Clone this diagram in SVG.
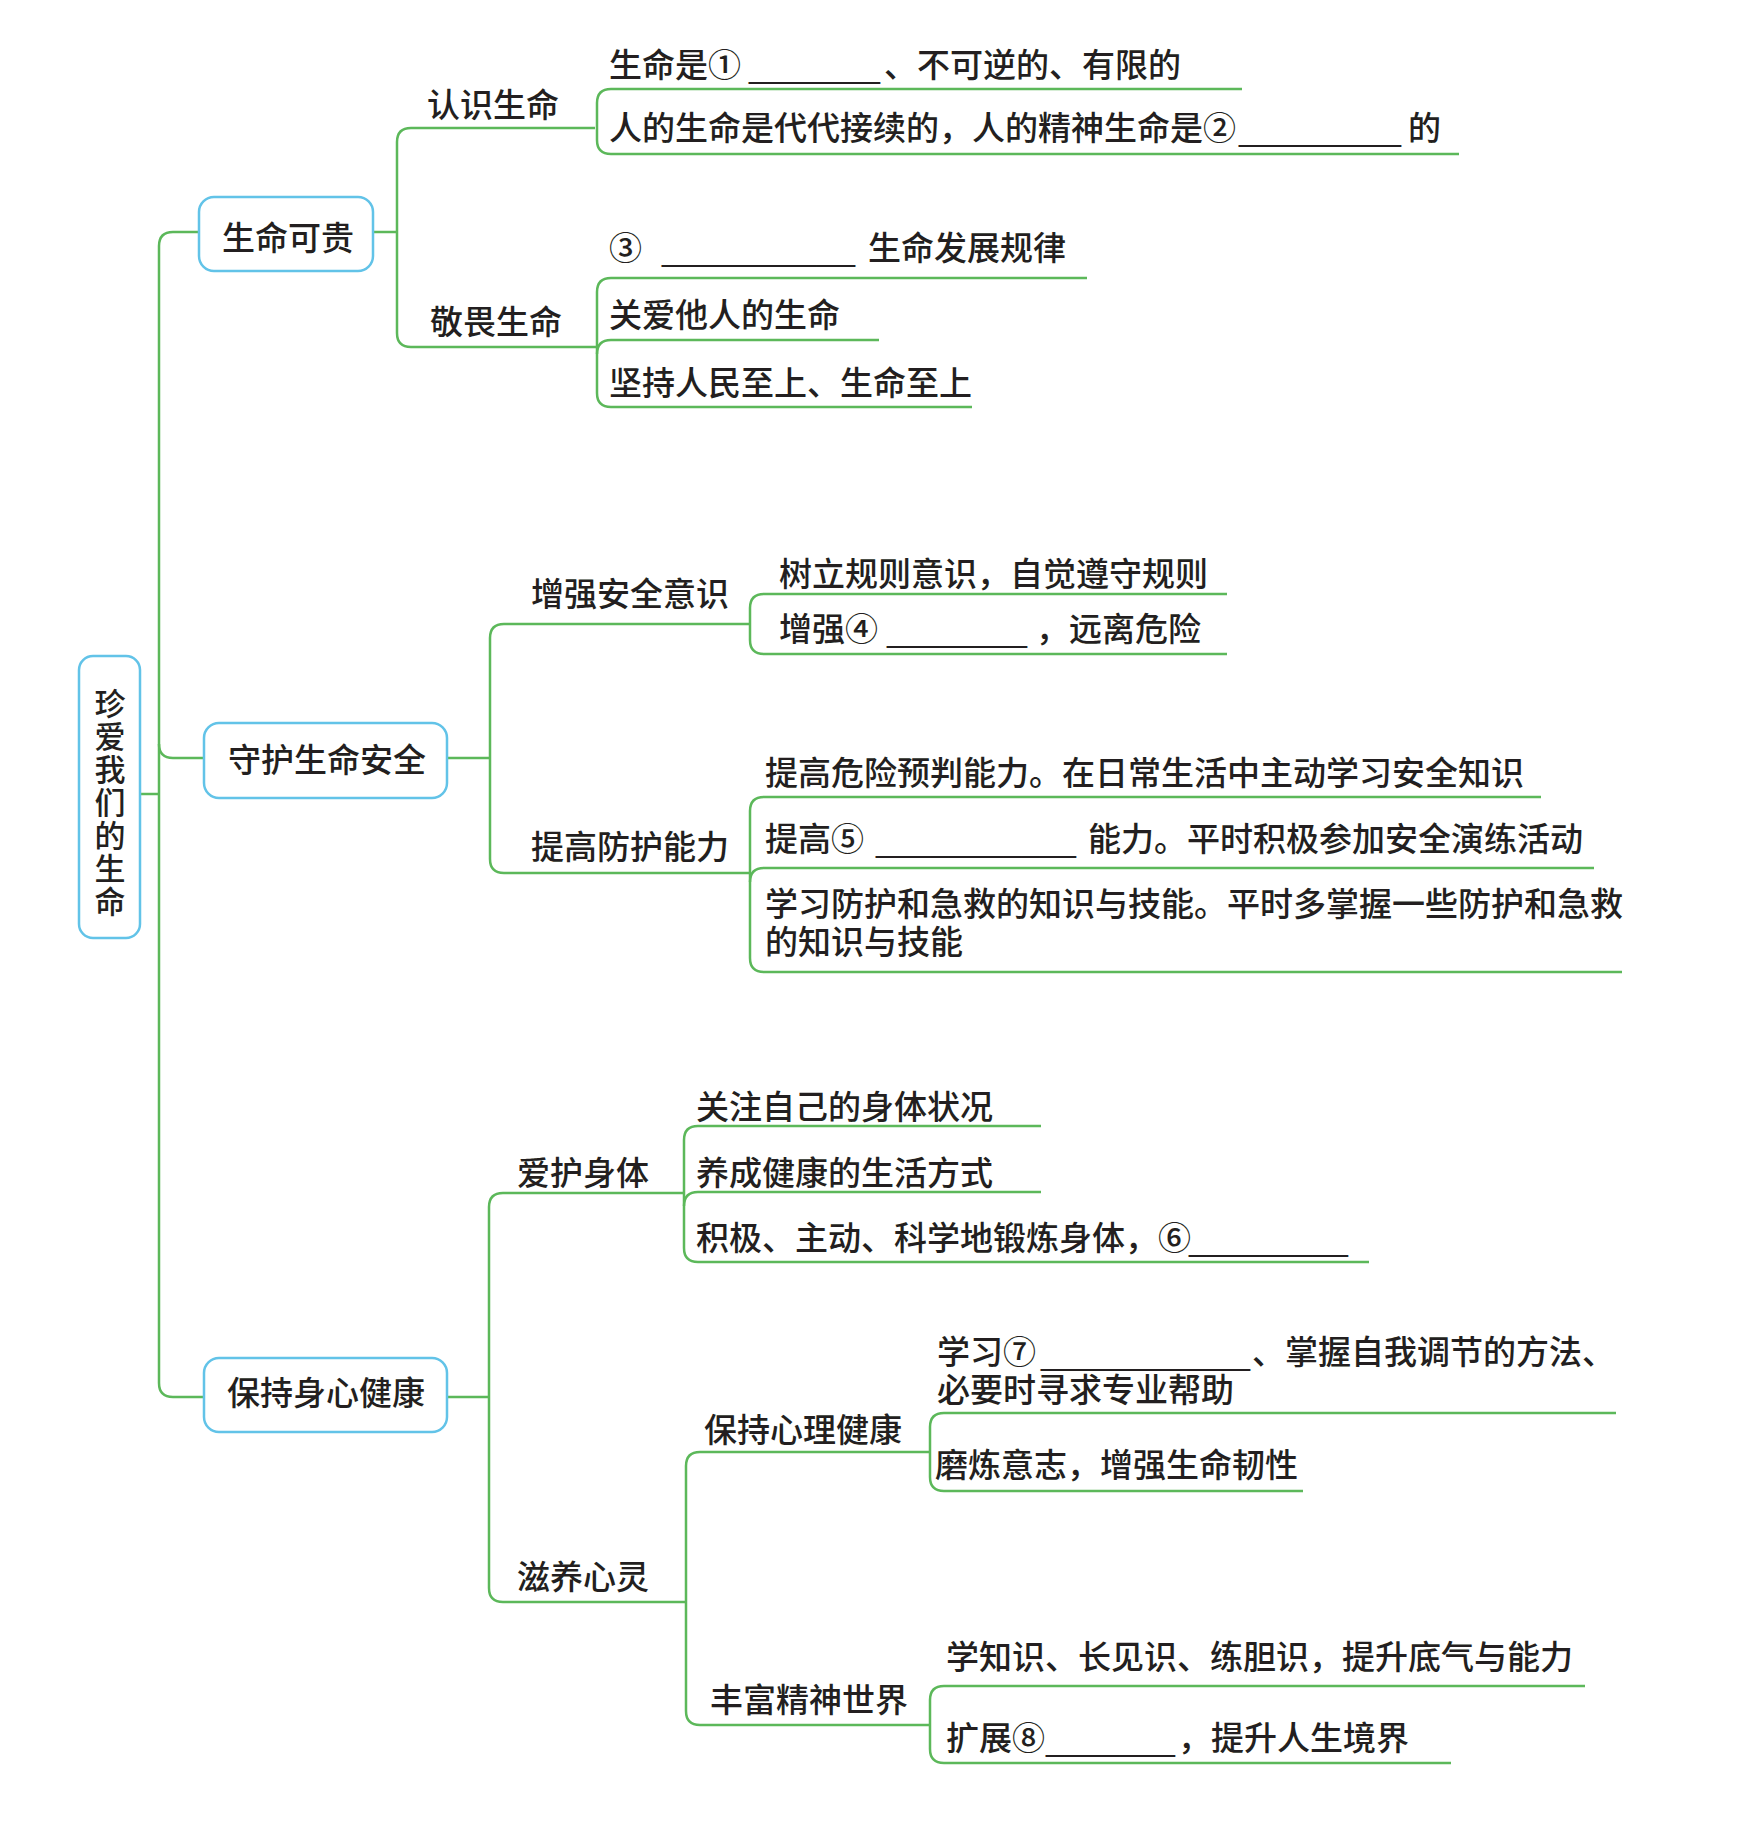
<svg xmlns="http://www.w3.org/2000/svg" width="1752" height="1845" viewBox="0 0 1752 1845">
<style>
text{font-family:"Noto Sans CJK SC","Noto Sans",sans-serif;font-size:33px;font-weight:500;fill:#231f20}
.c{text-anchor:middle}
.root{font-size:31px;writing-mode:vertical-rl;letter-spacing:2px}
.u{font-family:"Liberation Sans",sans-serif;font-weight:400}
.box{fill:#fff;stroke:#62c3e8;stroke-width:2.5}
.ln{fill:none;stroke:#5cb85a;stroke-width:2.5;stroke-linejoin:round}
</style>
<rect width="1752" height="1845" fill="#fff"/>
<g id="connectors" class="ln">
<path d="M140 794 H159"/>
<path d="M199 232 H173 Q159 232 159 246 V1383 Q159 1397 173 1397 H204"/>
<path d="M159 744 Q159 758 173 758 H204"/>
<path d="M373 232 H397"/>
<path d="M595 128 H411 Q397 128 397 142 V333 Q397 347 411 347 H597"/>
<path d="M1242 89 H611 Q597 89 597 103 V140 Q597 154 611 154 H1459"/>
<path d="M1087 278 H611 Q597 278 597 292 V393 Q597 407 611 407 H972"/>
<path d="M879 340 H611 Q597 340 597 354"/>
<path d="M447 758 H490"/>
<path d="M749 624 H504 Q490 624 490 638 V859 Q490 873 504 873 H750"/>
<path d="M1227 594 H764 Q750 594 750 608 V640 Q750 654 764 654 H1227"/>
<path d="M1541 797 H764 Q750 797 750 811 V958 Q750 972 764 972 H1622"/>
<path d="M1594 868 H764 Q750 868 750 882"/>
<path d="M447 1397 H489"/>
<path d="M684 1193 H503 Q489 1193 489 1207 V1588 Q489 1602 503 1602 H686"/>
<path d="M1041 1126 H698 Q684 1126 684 1140 V1248 Q684 1262 698 1262 H1369"/>
<path d="M1041 1192 H698 Q684 1192 684 1206"/>
<path d="M929 1452 H700 Q686 1452 686 1466 V1711 Q686 1725 700 1725 H930"/>
<path d="M1616 1413 H944 Q930 1413 930 1427 V1477 Q930 1491 944 1491 H1303"/>
<path d="M1585 1686 H944 Q930 1686 930 1700 V1749 Q930 1763 944 1763 H1451"/>
</g>
<g id="root">
<rect class="box" x="79" y="656" width="61" height="282" rx="14"/>
<text class="root" x="110" y="688">珍爱我们的生命</text>
</g>
<g id="n-smkg">
<rect class="box" x="199" y="197" width="174" height="74" rx="15"/>
<text class="c" x="288" y="250">生命可贵</text>
</g>
<g id="n-shsmaq">
<rect class="box" x="204" y="723" width="243" height="75" rx="15"/>
<text class="c" x="327" y="772">守护生命安全</text>
</g>
<g id="n-bcsxjk">
<rect class="box" x="204" y="1358" width="243" height="74" rx="15"/>
<text class="c" x="326" y="1405">保持身心健康</text>
</g>
<g id="branches">
<text x="427" y="117">认识生命</text>
<text x="430" y="334">敬畏生命</text>
<text x="531" y="606">增强安全意识</text>
<text x="531" y="859">提高防护能力</text>
<text x="517" y="1185">爱护身体</text>
<text x="517" y="1589">滋养心灵</text>
<text x="704" y="1442">保持心理健康</text>
<text x="710" y="1712">丰富精神世界</text>
</g>
<g id="leaves">
<text><tspan x="609" y="77">生命是①</tspan><tspan class="u" x="749" textLength="131" lengthAdjust="spacingAndGlyphs">_______</tspan><tspan x="884">、不可逆的、有限的</tspan></text>
<text><tspan x="609" y="140">人的生命是代代接续的，人的精神生命是②</tspan><tspan class="u" x="1239" textLength="162" lengthAdjust="spacingAndGlyphs">_________</tspan><tspan x="1408">的</tspan></text>
<text><tspan x="609" y="260">③</tspan><tspan class="u" x="662" textLength="193" lengthAdjust="spacingAndGlyphs">__________</tspan><tspan x="868">生命发展规律</tspan></text>
<text x="609" y="327">关爱他人的生命</text>
<text x="609" y="395">坚持人民至上、生命至上</text>
<text x="779" y="586">树立规则意识，自觉遵守规则</text>
<text><tspan x="779" y="641">增强④</tspan><tspan class="u" x="887" textLength="140" lengthAdjust="spacingAndGlyphs">________</tspan><tspan x="1036">，远离危险</tspan></text>
<text x="765" y="785">提高危险预判能力。在日常生活中主动学习安全知识</text>
<text><tspan x="765" y="851">提高⑤</tspan><tspan class="u" x="876" textLength="200" lengthAdjust="spacingAndGlyphs">___________</tspan><tspan x="1088">能力。平时积极参加安全演练活动</tspan></text>
<text><tspan x="765" y="916">学习防护和急救的知识与技能。平时多掌握一些防护和急救</tspan><tspan x="765" y="954">的知识与技能</tspan></text>
<text x="696" y="1119">关注自己的身体状况</text>
<text x="696" y="1185">养成健康的生活方式</text>
<text><tspan x="696" y="1250">积极、主动、科学地锻炼身体，⑥</tspan><tspan class="u" x="1189" textLength="159" lengthAdjust="spacingAndGlyphs">_________</tspan></text>
<text><tspan x="937" y="1364">学习⑦</tspan><tspan class="u" x="1041" textLength="209" lengthAdjust="spacingAndGlyphs">___________</tspan><tspan x="1252">、掌握自我调节的方法、</tspan><tspan x="937" y="1402">必要时寻求专业帮助</tspan></text>
<text x="935" y="1477">磨炼意志，增强生命韧性</text>
<text x="946" y="1669">学知识、长见识、练胆识，提升底气与能力</text>
<text><tspan x="946" y="1750">扩展⑧</tspan><tspan class="u" x="1046" textLength="129" lengthAdjust="spacingAndGlyphs">_______</tspan><tspan x="1178">，提升人生境界</tspan></text>
</g>
</svg>
